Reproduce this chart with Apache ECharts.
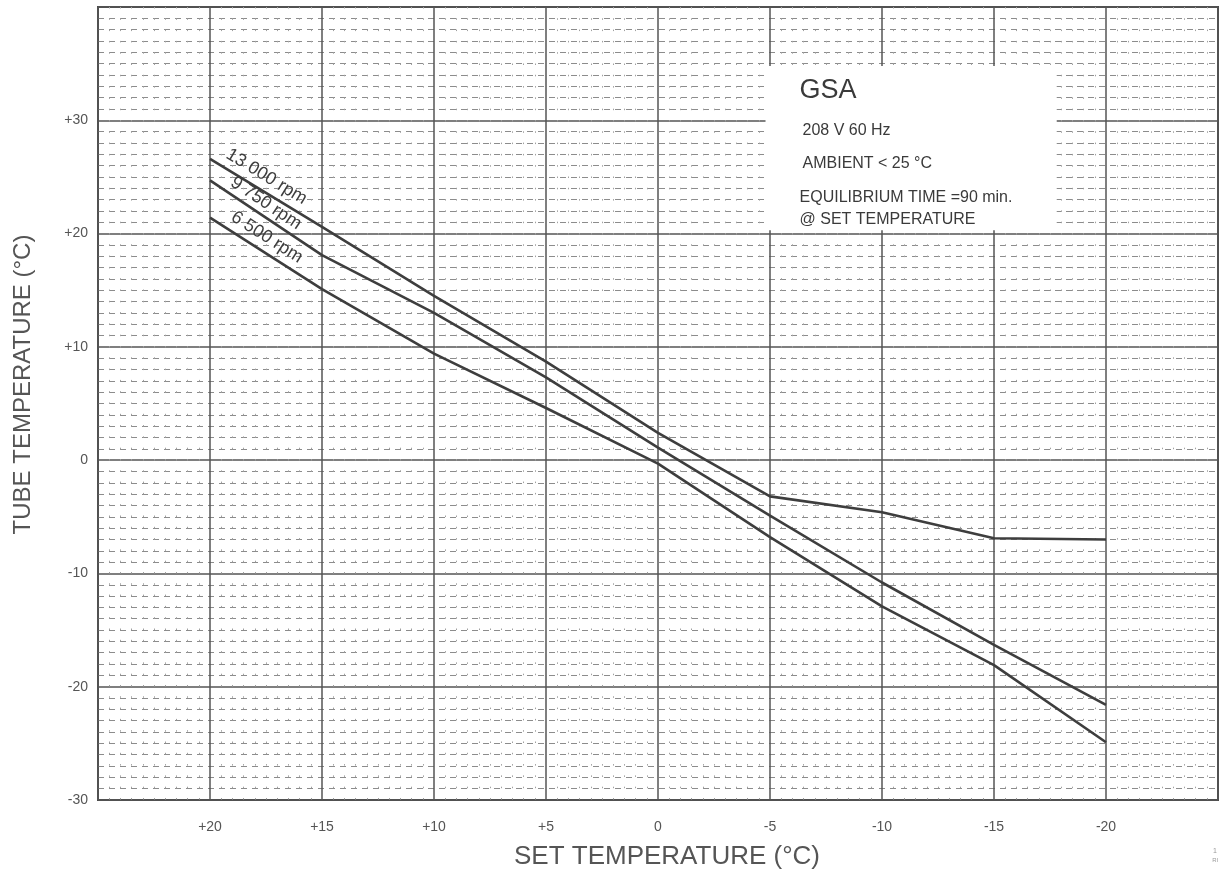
<!DOCTYPE html>
<html>
<head>
<meta charset="utf-8">
<script src="https://cdn.jsdelivr.net/npm/echarts/dist/echarts.min.js"></script>
<style>
html,body{margin:0;padding:0;background:#fff;}
#chart{width:1220px;height:869px;}
</style>
</head>
<body>
<div id="chart"></div>
<script>
// ---- data ----
const setTemps = [20, 15, 10, 5, 0, -5, -10, -15, -20];
const rpm13000 = [26.6, 20.6, 14.5, 8.7, 2.4, -3.2, -4.6, -6.9, -7.0];
const rpm9750  = [24.7, 18.1, 13.0, 7.3, 1.1, -4.9, -10.8, -16.3, -21.6];
const rpm6500  = [21.4, 15.1, 9.4, 4.6, -0.3, -6.8, -12.9, -18.1, -24.9];
const seriesNames = ['13 000 rpm', '9 750 rpm', '6 500 rpm'];
const xTickLabels = {'20': '+20', '15': '+15', '10': '+10', '5': '+5', '0': '0',
                     '-5': '-5', '-10': '-10', '-15': '-15', '-20': '-20'};
const yTickLabels = {'30': '+30', '20': '+20', '10': '+10', '0': '0',
                     '-10': '-10', '-20': '-20', '-30': '-30'};
const noteLines = ['GSA', '208 V 60 Hz', 'AMBIENT < 25 °C', 'EQUILIBRIUM TIME =90 min.', '@ SET TEMPERATURE'];
const xTitle = 'SET TEMPERATURE (°C)';
const yTitle = 'TUBE TEMPERATURE (°C)';

const FONT = '"Liberation Sans", Arial, Helvetica, sans-serif';
const INK = '#3e3e3e';

const chart = echarts.init(document.getElementById('chart'), null, {renderer: 'canvas'});

function pairs(ys) { return setTemps.map((x, i) => [x, ys[i]]); }
const allSeries = [rpm13000, rpm9750, rpm6500];

const option = {
  animation: false,
  backgroundColor: '#ffffff',
  grid: {left: 98, right: 2, top: 7, bottom: 69, show: true, containLabel: false,
         outerBoundsMode: 'none',
         borderColor: '#4a4a4a', borderWidth: 2, backgroundColor: 'transparent'},
  xAxis: {
    type: 'value', min: -25, max: 25, interval: 5, inverse: true,
    axisLine: {show: false}, axisTick: {show: false},
    axisLabel: {formatter: v => xTickLabels[String(v)] || '', color: '#555',
                fontSize: 14, fontFamily: FONT, margin: 20},
    splitLine: {show: true, lineStyle: {color: '#555', width: 1.5}},
    minorTick: {show: false, splitNumber: 10},
    minorSplitLine: {show: true, lineStyle: {color: '#a0a0a0', width: 1, type: [1.5, 9.8]}},
    name: xTitle, nameLocation: 'middle', nameGap: 44,
    nameTextStyle: {fontSize: 26, color: '#555', fontFamily: FONT, padding: [0, 0, 0, 18]}
  },
  yAxis: {
    type: 'value', min: -30, max: 40, interval: 10,
    axisLine: {show: false}, axisTick: {show: false},
    axisLabel: {formatter: v => yTickLabels[String(v)] || '', color: '#555',
                fontSize: 14, fontFamily: FONT, margin: 10},
    splitLine: {show: true, lineStyle: {color: '#555', width: 1.5}},
    minorTick: {show: false, splitNumber: 10},
    minorSplitLine: {show: true, lineStyle: {color: '#8c8c8c', width: 1, type: [6, 5]}},
    name: yTitle, nameLocation: 'middle', nameGap: 63, nameRotate: 90,
    nameTextStyle: {fontSize: 24, color: '#555', fontFamily: FONT, padding: [0, 0, 0, 38]}
  },
  series: allSeries.map((ys, i) => ({
    name: seriesNames[i], type: 'line', data: pairs(ys),
    showSymbol: false, symbol: 'none', smooth: false, z: 5,
    lineStyle: {color: INK, width: 2.6}
  }))
};
chart.setOption(option);

// ---- annotations positioned through the chart's own scales ----
function px(pt) { return chart.convertToPixel({gridIndex: 0}, pt); }
const labelAtX = 17.8;
const labelOffsets = [14, 12, 14];
const graphics = [];
allSeries.forEach((ys, i) => {
  const p1 = px([setTemps[0], ys[0]]);
  const p2 = px([setTemps[1], ys[1]]);
  const ang = Math.atan2(p2[1] - p1[1], p2[0] - p1[0]);
  const t = (labelAtX - setTemps[0]) / (setTemps[1] - setTemps[0]);
  const yAt = ys[0] + t * (ys[1] - ys[0]);
  const pm = px([labelAtX, yAt]);
  const off = labelOffsets[i];
  graphics.push({
    type: 'text', x: pm[0] + Math.sin(ang) * off, y: pm[1] - Math.cos(ang) * off,
    rotation: -ang, z: 20,
    style: {text: seriesNames[i], fill: INK, font: '18px ' + FONT, align: 'center', verticalAlign: 'middle'}
  });
});

// note box (white panel over the grid paper)
const boxTL = px([-4.8, 34.8]);
const boxBR = px([-17.8, 20.3]);
graphics.push({
  type: 'rect', z: 15,
  shape: {x: boxTL[0], y: boxTL[1], width: boxBR[0] - boxTL[0], height: boxBR[1] - boxTL[1]},
  style: {fill: '#ffffff'}
});
const noteFonts = ['27px', '16px', '16px', '16px', '16px'];
const noteDx = [34, 37, 37, 34, 34];
const noteDy = [25, 65, 98, 132, 154];
noteLines.forEach((s, i) => {
  graphics.push({
    type: 'text', z: 16, x: boxTL[0] + noteDx[i], y: boxTL[1] + noteDy[i],
    style: {text: s, fill: '#3a3a3a', font: noteFonts[i] + ' ' + FONT, align: 'left', verticalAlign: 'middle'}
  });
});
// tiny corner marks of the scan
graphics.push({type: 'text', z: 16, right: 3, bottom: 14,
  style: {text: '1', fill: '#999', font: '7px ' + FONT}});
graphics.push({type: 'text', z: 16, right: 2, bottom: 6,
  style: {text: 'Rl', fill: '#999', font: '6px ' + FONT}});
chart.setOption({graphic: {elements: graphics}});
</script>
</body>
</html>
